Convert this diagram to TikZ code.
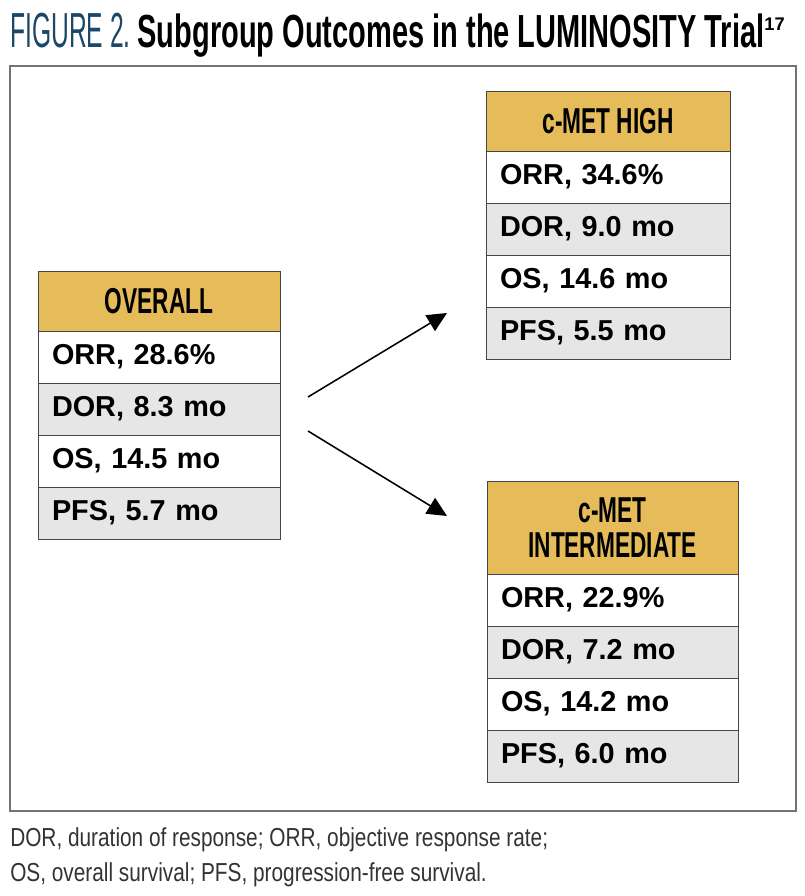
\documentclass[tikz,border=0pt]{standalone}
\usepackage{fontspec}
\setmainfont{Liberation Sans}
\newfontfamily\hdrfont[FakeStretch=0.63]{Liberation Sans}
\newfontfamily\titlefont[FakeStretch=0.625]{Liberation Sans}
\newfontfamily\figfont[FakeStretch=0.5]{Liberation Sans}
\newfontfamily\capfont[FakeStretch=0.8]{Liberation Sans}
\usetikzlibrary{positioning, arrows.meta}
\definecolor{figblue}{RGB}{27,72,103}
\definecolor{gold}{RGB}{230,187,90}
\definecolor{rowgray}{RGB}{230,230,230}
\definecolor{boxline}{RGB}{70,70,70}

\tikzset{
    hdr/.style={draw=boxline, fill=gold, inner sep=0pt, outer sep=0pt, line width=0.7pt,
        align=center, font={\hdrfont\bfseries\fontsize{25.6}{25}\selectfont}},
    datarow/.style={draw=boxline, inner xsep=0.35cm, inner ysep=0pt, outer sep=0pt, line width=0.7pt,
        minimum height=1.3cm, text width=#1, align=left,
        font={\bfseries\fontsize{20.5}{22}\selectfont}},
    whiterow/.style={datarow=#1, fill=white},
    grayrow/.style={datarow=#1, fill=rowgray},
    splitarrow/.style={line width=1.1pt, -{Triangle[length=14pt,width=13pt]}}
}

\begin{document}
\begin{tikzpicture}[x=0.025cm, y=-0.025cm]
    \useasboundingbox (0,0) rectangle (804,896);

    % title
    \node[anchor=base west, inner sep=0pt] (title) at (10,47)
        {{\figfont\fontsize{35}{38}\selectfont\color{figblue}FIGURE 2.}\hspace{5pt}{\titlefont\bfseries\fontsize{33}{38}\selectfont Subgroup Outcomes in the LUMINOSITY Trial}\raisebox{12pt}{\bfseries\fontsize{13}{14}\selectfont 17}};
    \draw[draw=black!55, line width=0.8pt] (10,66) rectangle (796,811);

    % overall
    \node[hdr, minimum width=6.05cm, minimum height=1.5cm, anchor=north west] (overall) at (38,271) {OVERALL};
    \node[whiterow=5.35cm, below=0pt of overall] (o1) {ORR, 28.6\%};
    \node[grayrow=5.35cm, below=0pt of o1] (o2) {DOR, 8.3 mo};
    \node[whiterow=5.35cm, below=0pt of o2] (o3) {OS, 14.5 mo};
    \node[grayrow=5.35cm, below=0pt of o3] (o4) {PFS, 5.7 mo};

    % c-MET high
    \node[hdr, minimum width=6.1cm, minimum height=1.5cm, anchor=north west] (high) at (486,91) {c-MET HIGH};
    \node[whiterow=5.4cm, below=0pt of high] (h1) {ORR, 34.6\%};
    \node[grayrow=5.4cm, below=0pt of h1] (h2) {DOR, 9.0 mo};
    \node[whiterow=5.4cm, below=0pt of h2] (h3) {OS, 14.6 mo};
    \node[grayrow=5.4cm, below=0pt of h3] (h4) {PFS, 5.5 mo};

    % c-MET intermediate
    \node[hdr, minimum width=6.275cm, minimum height=2.325cm, anchor=north west] (inter) at (487,481) {c-MET\\INTERMEDIATE};
    \node[whiterow=5.575cm, below=0pt of inter] (i1) {ORR, 22.9\%};
    \node[grayrow=5.575cm, below=0pt of i1] (i2) {DOR, 7.2 mo};
    \node[whiterow=5.575cm, below=0pt of i2] (i3) {OS, 14.2 mo};
    \node[grayrow=5.575cm, below=0pt of i3] (i4) {PFS, 6.0 mo};

    % arrows
    \coordinate (upstart) at (308,397);
    \coordinate (upend) at (447,313);
    \coordinate (downstart) at (308,431);
    \coordinate (downend) at (447,516);
    \draw[splitarrow] (upstart) -- (upend);
    \draw[splitarrow] (downstart) -- (downend);

    % caption
    \node[anchor=base west, inner sep=0pt, align=left, text=black!80,
        font={\capfont\fontsize{18.5}{24.5}\selectfont}] (note) at (10,881)
        {DOR, duration of response; ORR, objective response rate;\\OS, overall survival; PFS, progression-free survival.};
\end{tikzpicture}
\end{document}
